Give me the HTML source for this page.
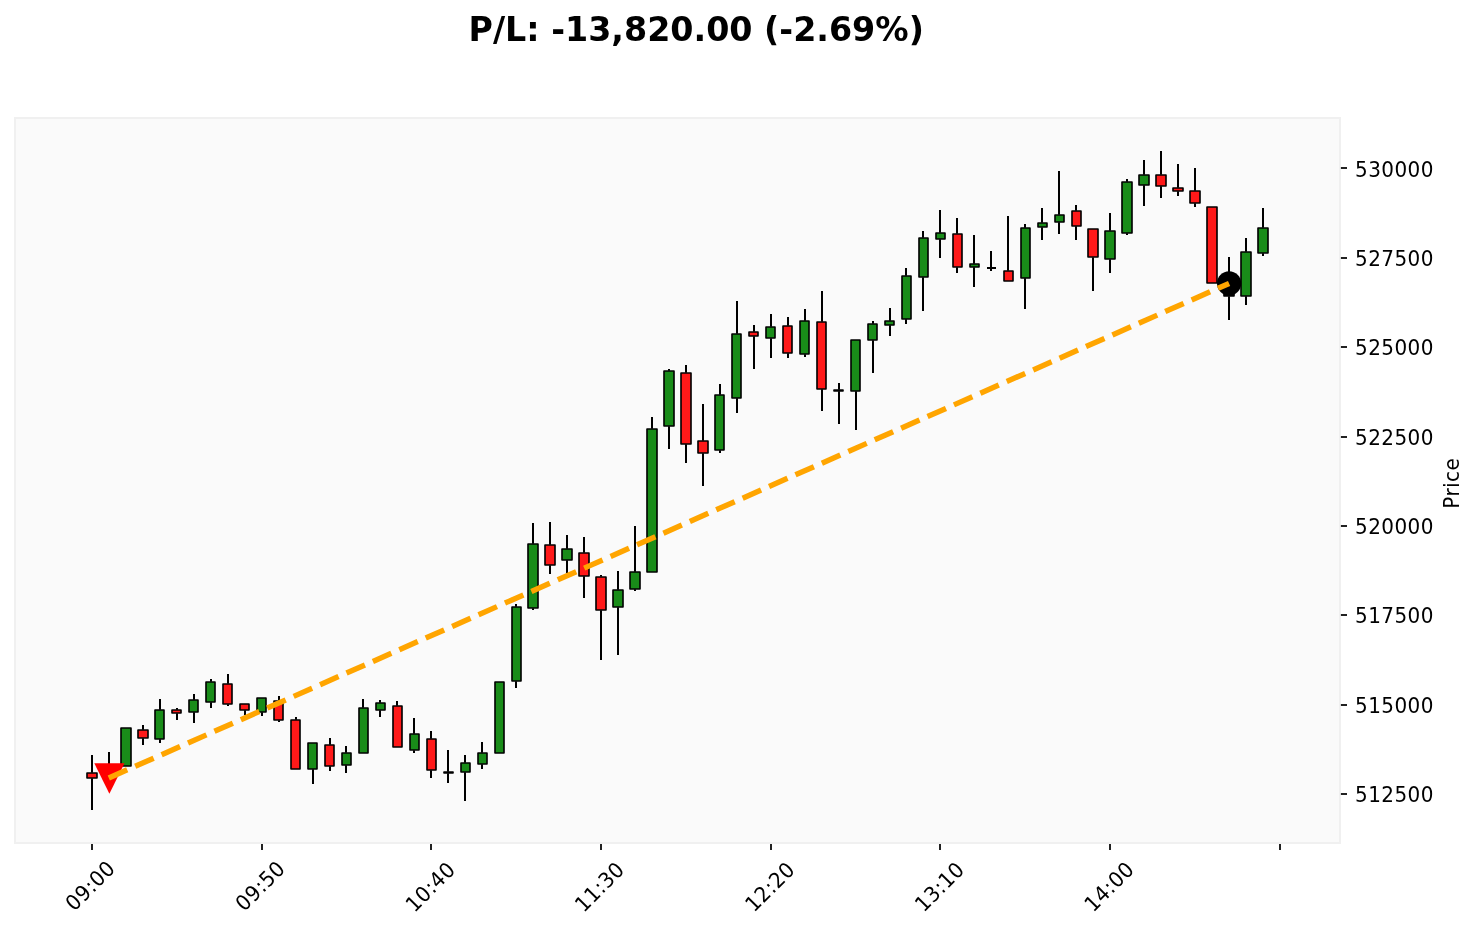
<!DOCTYPE html>
<html lang="en">
<head>
<meta charset="utf-8">
<title>P/L: -13,820.00 (-2.69%)</title>
<style>
html,body{margin:0;padding:0;background:#fff;}
body{width:1477px;height:929px;overflow:hidden;}
svg{display:block;}
text{font-family:"DejaVu Sans","Liberation Sans",sans-serif;fill:#000;}
.t{font-size:20px;}
.n{letter-spacing:0.43px;}
.title{font-size:33.3px;font-weight:bold;}
</style>
</head>
<body>
<svg width="1477" height="929" viewBox="0 0 1477 929">
<rect width="1477" height="929" fill="#fff"/>
<text class="title" x="696.2" y="41.4" text-anchor="middle">P/L: -13,820.00 (-2.69%)</text>
<rect x="15" y="118" width="1325" height="725" fill="#fafafa" stroke="#f0f0f0" stroke-width="2"/>
<path d="M92 755V772.7M92 778.3V810M109 752V767.7M143 725V729.7M143 738.3V745M160 699V709.7M160 739.3V743M177 708V709.7M177 713.3V720M194 694V699.7M194 712.3V723M211 679V681.7M211 702.3V708M228 674V683.7M228 704.3V706M245 710.3V715M262 712.3V716M279 696V700.7M279 720.3V722M296 717V719.7M313 769.3V784M330 738V744.7M330 766.3V771M346 746V752.7M346 765.3V773M363 699V707.7M380 700V702.7M380 710.3V717M397 701V705.7M414 718V733.7M414 750.3V753M431 731V738.7M431 770.3V778M448 750V771.7M448 773.3V783M465 755V762.7M465 772.3V801M482 742V752.7M482 764.3V769M516 604V606.7M516 681.3V688M533 523V543.7M533 608.3V610M550 522V544.7M550 565.3V574M567 535V548.7M567 560.3V573M584 537V552.7M584 576.3V598M601 575V576.7M601 610.3V660M618 571V589.7M618 607.3V655M635 526V571.7M635 589.3V591M652 417V428.7M669 369V370.7M669 426.3V449M686 365V372.7M686 444.3V463M703 404V440.7M703 453.3V486M720 384V394.7M720 450.3V453M737 301V333.7M737 398.3V413M754 325V331.7M754 336.3V369M771 314V326.7M771 338.3V358M788 317V325.7M788 353.3V358M805 309V320.7M805 354.3V357M822 291V321.7M822 389.3V411M839 383V389.7M839 391.3V424M856 391.3V430M873 321V323.7M873 340.3V373M890 308V320.7M890 325.3V336M906 268V275.7M906 319.3V324M923 231V237.7M923 277.3V311M940 210V232.7M940 239.3V258M957 218V233.7M957 267.3V273M974 235V263.7M974 267.3V287M991 251V267.7M991 268.3V271M1008 216V270.7M1025 224V227.7M1025 278.3V309M1042 208V222.7M1042 227.3V240M1059 171V214.7M1059 222.3V234M1076 205V210.7M1076 226.3V240M1093 257.3V291M1110 213V230.7M1110 259.3V273M1127 179V181.7M1127 233.3V235M1144 160V174.7M1144 185.3V206M1161 151V174.7M1161 186.3V198M1178 164V187.7M1178 191.3V196M1195 168V190.7M1195 203.3V207M1229 257V289.7M1229 296.3V320M1246 238V251.7M1246 296.3V305M1263 208V227.7M1263 253.3V256" stroke="#000" stroke-width="2" fill="none"/>
<g>
<rect x="87" y="773" width="10" height="5" fill="#ff1919" stroke="#000" stroke-width="1.62" stroke-linejoin="round"/>
<rect x="104" y="768" width="10" height="8" fill="#198c19" stroke="#000" stroke-width="1.62" stroke-linejoin="round"/>
<rect x="121" y="728" width="10" height="38" fill="#198c19" stroke="#000" stroke-width="1.62" stroke-linejoin="round"/>
<rect x="138" y="730" width="10" height="8" fill="#ff1919" stroke="#000" stroke-width="1.62" stroke-linejoin="round"/>
<rect x="155" y="710" width="9" height="29" fill="#198c19" stroke="#000" stroke-width="1.62" stroke-linejoin="round"/>
<rect x="172" y="710" width="9" height="3" fill="#ff1919" stroke="#000" stroke-width="1.62" stroke-linejoin="round"/>
<rect x="189" y="700" width="9" height="12" fill="#198c19" stroke="#000" stroke-width="1.62" stroke-linejoin="round"/>
<rect x="206" y="682" width="9" height="20" fill="#198c19" stroke="#000" stroke-width="1.62" stroke-linejoin="round"/>
<rect x="223" y="684" width="9" height="20" fill="#ff1919" stroke="#000" stroke-width="1.62" stroke-linejoin="round"/>
<rect x="240" y="704" width="9" height="6" fill="#ff1919" stroke="#000" stroke-width="1.62" stroke-linejoin="round"/>
<rect x="257" y="698" width="9" height="14" fill="#198c19" stroke="#000" stroke-width="1.62" stroke-linejoin="round"/>
<rect x="274" y="701" width="9" height="19" fill="#ff1919" stroke="#000" stroke-width="1.62" stroke-linejoin="round"/>
<rect x="291" y="720" width="9" height="49" fill="#ff1919" stroke="#000" stroke-width="1.62" stroke-linejoin="round"/>
<rect x="308" y="743" width="9" height="26" fill="#198c19" stroke="#000" stroke-width="1.62" stroke-linejoin="round"/>
<rect x="325" y="745" width="9" height="21" fill="#ff1919" stroke="#000" stroke-width="1.62" stroke-linejoin="round"/>
<rect x="342" y="753" width="9" height="12" fill="#198c19" stroke="#000" stroke-width="1.62" stroke-linejoin="round"/>
<rect x="359" y="708" width="9" height="45" fill="#198c19" stroke="#000" stroke-width="1.62" stroke-linejoin="round"/>
<rect x="376" y="703" width="9" height="7" fill="#198c19" stroke="#000" stroke-width="1.62" stroke-linejoin="round"/>
<rect x="393" y="706" width="9" height="41" fill="#ff1919" stroke="#000" stroke-width="1.62" stroke-linejoin="round"/>
<rect x="410" y="734" width="9" height="16" fill="#198c19" stroke="#000" stroke-width="1.62" stroke-linejoin="round"/>
<rect x="427" y="739" width="9" height="31" fill="#ff1919" stroke="#000" stroke-width="1.62" stroke-linejoin="round"/>
<rect x="444" y="772" width="9" height="1" fill="#198c19" stroke="#000" stroke-width="1.62" stroke-linejoin="round"/>
<rect x="461" y="763" width="9" height="9" fill="#198c19" stroke="#000" stroke-width="1.62" stroke-linejoin="round"/>
<rect x="478" y="753" width="9" height="11" fill="#198c19" stroke="#000" stroke-width="1.62" stroke-linejoin="round"/>
<rect x="495" y="682" width="9" height="71" fill="#198c19" stroke="#000" stroke-width="1.62" stroke-linejoin="round"/>
<rect x="512" y="607" width="9" height="74" fill="#198c19" stroke="#000" stroke-width="1.62" stroke-linejoin="round"/>
<rect x="528" y="544" width="10" height="64" fill="#198c19" stroke="#000" stroke-width="1.62" stroke-linejoin="round"/>
<rect x="545" y="545" width="10" height="20" fill="#ff1919" stroke="#000" stroke-width="1.62" stroke-linejoin="round"/>
<rect x="562" y="549" width="10" height="11" fill="#198c19" stroke="#000" stroke-width="1.62" stroke-linejoin="round"/>
<rect x="579" y="553" width="10" height="23" fill="#ff1919" stroke="#000" stroke-width="1.62" stroke-linejoin="round"/>
<rect x="596" y="577" width="10" height="33" fill="#ff1919" stroke="#000" stroke-width="1.62" stroke-linejoin="round"/>
<rect x="613" y="590" width="10" height="17" fill="#198c19" stroke="#000" stroke-width="1.62" stroke-linejoin="round"/>
<rect x="630" y="572" width="10" height="17" fill="#198c19" stroke="#000" stroke-width="1.62" stroke-linejoin="round"/>
<rect x="647" y="429" width="10" height="143" fill="#198c19" stroke="#000" stroke-width="1.62" stroke-linejoin="round"/>
<rect x="664" y="371" width="10" height="55" fill="#198c19" stroke="#000" stroke-width="1.62" stroke-linejoin="round"/>
<rect x="681" y="373" width="10" height="71" fill="#ff1919" stroke="#000" stroke-width="1.62" stroke-linejoin="round"/>
<rect x="698" y="441" width="10" height="12" fill="#ff1919" stroke="#000" stroke-width="1.62" stroke-linejoin="round"/>
<rect x="715" y="395" width="9" height="55" fill="#198c19" stroke="#000" stroke-width="1.62" stroke-linejoin="round"/>
<rect x="732" y="334" width="9" height="64" fill="#198c19" stroke="#000" stroke-width="1.62" stroke-linejoin="round"/>
<rect x="749" y="332" width="9" height="4" fill="#ff1919" stroke="#000" stroke-width="1.62" stroke-linejoin="round"/>
<rect x="766" y="327" width="9" height="11" fill="#198c19" stroke="#000" stroke-width="1.62" stroke-linejoin="round"/>
<rect x="783" y="326" width="9" height="27" fill="#ff1919" stroke="#000" stroke-width="1.62" stroke-linejoin="round"/>
<rect x="800" y="321" width="9" height="33" fill="#198c19" stroke="#000" stroke-width="1.62" stroke-linejoin="round"/>
<rect x="817" y="322" width="9" height="67" fill="#ff1919" stroke="#000" stroke-width="1.62" stroke-linejoin="round"/>
<rect x="834" y="390" width="9" height="1" fill="#198c19" stroke="#000" stroke-width="1.62" stroke-linejoin="round"/>
<rect x="851" y="340" width="9" height="51" fill="#198c19" stroke="#000" stroke-width="1.62" stroke-linejoin="round"/>
<rect x="868" y="324" width="9" height="16" fill="#198c19" stroke="#000" stroke-width="1.62" stroke-linejoin="round"/>
<rect x="885" y="321" width="9" height="4" fill="#198c19" stroke="#000" stroke-width="1.62" stroke-linejoin="round"/>
<rect x="902" y="276" width="9" height="43" fill="#198c19" stroke="#000" stroke-width="1.62" stroke-linejoin="round"/>
<rect x="919" y="238" width="9" height="39" fill="#198c19" stroke="#000" stroke-width="1.62" stroke-linejoin="round"/>
<rect x="936" y="233" width="9" height="6" fill="#198c19" stroke="#000" stroke-width="1.62" stroke-linejoin="round"/>
<rect x="953" y="234" width="9" height="33" fill="#ff1919" stroke="#000" stroke-width="1.62" stroke-linejoin="round"/>
<rect x="970" y="264" width="9" height="3" fill="#198c19" stroke="#000" stroke-width="1.62" stroke-linejoin="round"/>
<path d="M987 268H996" stroke="#000" stroke-width="2" fill="none"/>
<rect x="1004" y="271" width="9" height="10" fill="#ff1919" stroke="#000" stroke-width="1.62" stroke-linejoin="round"/>
<rect x="1021" y="228" width="9" height="50" fill="#198c19" stroke="#000" stroke-width="1.62" stroke-linejoin="round"/>
<rect x="1038" y="223" width="9" height="4" fill="#198c19" stroke="#000" stroke-width="1.62" stroke-linejoin="round"/>
<rect x="1055" y="215" width="9" height="7" fill="#198c19" stroke="#000" stroke-width="1.62" stroke-linejoin="round"/>
<rect x="1072" y="211" width="9" height="15" fill="#ff1919" stroke="#000" stroke-width="1.62" stroke-linejoin="round"/>
<rect x="1088" y="229" width="10" height="28" fill="#ff1919" stroke="#000" stroke-width="1.62" stroke-linejoin="round"/>
<rect x="1105" y="231" width="10" height="28" fill="#198c19" stroke="#000" stroke-width="1.62" stroke-linejoin="round"/>
<rect x="1122" y="182" width="10" height="51" fill="#198c19" stroke="#000" stroke-width="1.62" stroke-linejoin="round"/>
<rect x="1139" y="175" width="10" height="10" fill="#198c19" stroke="#000" stroke-width="1.62" stroke-linejoin="round"/>
<rect x="1156" y="175" width="10" height="11" fill="#ff1919" stroke="#000" stroke-width="1.62" stroke-linejoin="round"/>
<rect x="1173" y="188" width="10" height="3" fill="#ff1919" stroke="#000" stroke-width="1.62" stroke-linejoin="round"/>
<rect x="1190" y="191" width="10" height="12" fill="#ff1919" stroke="#000" stroke-width="1.62" stroke-linejoin="round"/>
<rect x="1207" y="207" width="10" height="76" fill="#ff1919" stroke="#000" stroke-width="1.62" stroke-linejoin="round"/>
<rect x="1224" y="290" width="10" height="6" fill="#000" stroke="#000" stroke-width="1.62" stroke-linejoin="round"/>
<rect x="1241" y="252" width="10" height="44" fill="#198c19" stroke="#000" stroke-width="1.62" stroke-linejoin="round"/>
<rect x="1258" y="228" width="10" height="25" fill="#198c19" stroke="#000" stroke-width="1.62" stroke-linejoin="round"/>
</g>
<polygon points="94.3,763.3 124.5,763.3 109.4,793.7" fill="#ff0000"/>
<circle cx="1229.1" cy="283.4" r="12.1" fill="#000"/>
<line x1="108.8" y1="778" x2="1229.1" y2="283.4" stroke="#ffa500" stroke-width="5.45" stroke-dasharray="20.15 8.72"/>
<text class="t n" transform="translate(1355 176.6) scale(1 1.06)">530000</text>
<text class="t n" transform="translate(1355 265.7) scale(1 1.06)">527500</text>
<text class="t n" transform="translate(1355 354.7) scale(1 1.06)">525000</text>
<text class="t n" transform="translate(1355 444.7) scale(1 1.06)">522500</text>
<text class="t n" transform="translate(1355 533.7) scale(1 1.06)">520000</text>
<text class="t n" transform="translate(1355 622.7) scale(1 1.06)">517500</text>
<text class="t n" transform="translate(1355 712.7) scale(1 1.06)">515000</text>
<text class="t n" transform="translate(1355 801.7) scale(1 1.06)">512500</text>
<text class="t n" text-anchor="middle" transform="translate(90 885.4) rotate(-45) scale(1 1.06)" y="7.3">09:00</text>
<text class="t n" text-anchor="middle" transform="translate(260 885.6) rotate(-45) scale(1 1.06)" y="7.3">09:50</text>
<text class="t n" text-anchor="middle" transform="translate(430.1 886.6) rotate(-45) scale(1 1.06)" y="7.3">10:40</text>
<text class="t n" text-anchor="middle" transform="translate(599.3 886.6) rotate(-45) scale(1 1.06)" y="7.3">11:30</text>
<text class="t n" text-anchor="middle" transform="translate(769.7 886.5) rotate(-45) scale(1 1.06)" y="7.3">12:20</text>
<text class="t n" text-anchor="middle" transform="translate(939.3 886.5) rotate(-45) scale(1 1.06)" y="7.3">13:10</text>
<text class="t n" text-anchor="middle" transform="translate(1108.9 886.4) rotate(-45) scale(1 1.06)" y="7.3">14:00</text>
<path d="M1340.9 168H1347M1340.9 258H1347M1340.9 347H1347M1340.9 437H1347M1340.9 526H1347M1340.9 615H1347M1340.9 705H1347M1340.9 794H1347M92 843.9V850M262 843.9V850M431 843.9V850M601 843.9V850M771 843.9V850M940 843.9V850M1110 843.9V850M1280 843.9V850" stroke="#222" stroke-width="2" fill="none"/>
<text class="t" style="letter-spacing:0.45px" text-anchor="middle" transform="translate(1459 483.2) rotate(-90) scale(1 1.04)">Price</text>
</svg>
</body>
</html>
